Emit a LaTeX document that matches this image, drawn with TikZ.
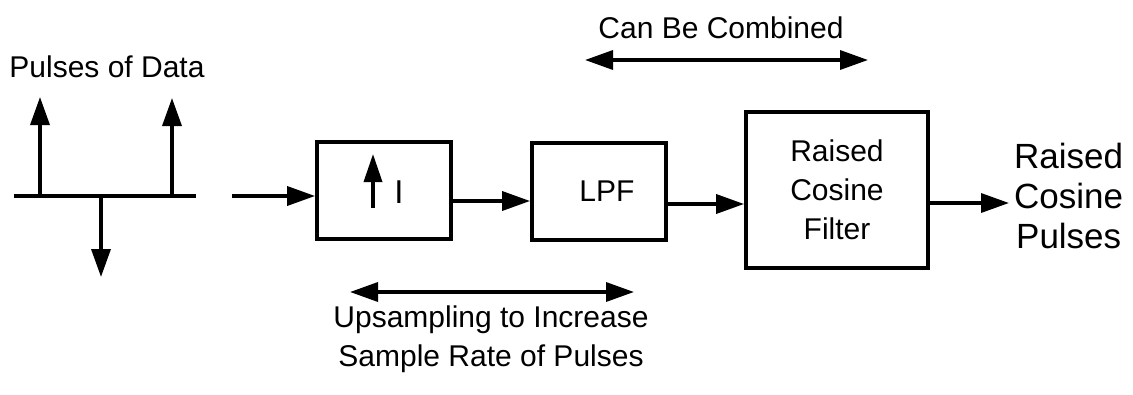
\documentclass[tikz,border=0pt]{standalone}
\usepackage{fontspec}
\setmainfont{Liberation Sans}
\usetikzlibrary{arrows.meta}
\begin{document}
\begin{tikzpicture}[x=1pt,y=-1pt,
  lbl/.style={font=\fontsize{30}{39}\selectfont, align=center, inner sep=0pt},
  blk/.style={draw, line width=3.8pt, inner sep=0pt, font=\fontsize{30}{39}\selectfont, align=center},
  arr/.style={line width=3.5pt, -{Triangle[length=28pt,width=19pt]}},
  darr/.style={line width=3.5pt, {Triangle[length=28pt,width=19pt]}-{Triangle[length=28pt,width=19pt]}},
  base/.style={line width=4pt}]
\useasboundingbox (0,0) rectangle (1133,394);
% pulses of data
\node[lbl] (title) at (107,67) {Pulses of Data};
\coordinate (bl) at (14,196);
\coordinate (br) at (196,196);
\coordinate (p1) at (40,196);
\coordinate (p1t) at (40,97);
\coordinate (p2) at (172,196);
\coordinate (p2t) at (172,98);
\coordinate (p3) at (101,196);
\coordinate (p3t) at (101,277);
\draw[base] (bl) -- (br);
\draw[arr] (p1) -- (p1t);
\draw[arr] (p2) -- (p2t);
\draw[arr] (p3) -- (p3t);
% blocks
\node[blk, minimum width=134pt, minimum height=97pt] (up) at (384,190.5) {};
\node[font=\fontsize{33}{39}\selectfont, inner sep=0pt] (ilab) at (399,192) {I};
\coordinate (ua) at (373,208);
\coordinate (ub) at (373,154);
\draw[line width=3.5pt, -{Triangle[length=28pt,width=18pt]}] (ua) -- (ub);
\node[blk, minimum width=134pt, minimum height=97pt] (lpf) at (599,191.5) {\hspace*{16pt}LPF};
\node[blk, minimum width=182pt, minimum height=156pt] (rcf) at (837,190) {Raised\\Cosine\\Filter};
\node[font=\fontsize{35}{40}\selectfont, align=center, inner sep=0pt, anchor=west] (out) at (1014,196) {Raised\\Cosine\\Pulses};
% connectors
\coordinate (in) at (232,196);
\draw[arr] (in) -- (in -| up.west);
\draw[arr] ([yshift=-10.5pt]up.east) -- ([yshift=-10.5pt]up.east -| lpf.west);
\draw[arr] ([yshift=-12.5pt]lpf.east) -- ([yshift=-12.5pt]lpf.east -| rcf.west);
\coordinate (oe) at (1009,203);
\draw[arr] (rcf.east |- oe) -- (oe);
% annotations
\node[lbl] (comb) at (721,28) {Can Be Combined};
\coordinate (ca) at (585,60);
\coordinate (cb) at (868,60);
\draw[darr] (ca) -- (cb);
\coordinate (ua1) at (350,292);
\coordinate (ua2) at (634,292);
\draw[darr] (ua1) -- (ua2);
\node[lbl] (ups) at (491,339) {Upsampling to Increase\\Sample Rate of Pulses};
\end{tikzpicture}
\end{document}
